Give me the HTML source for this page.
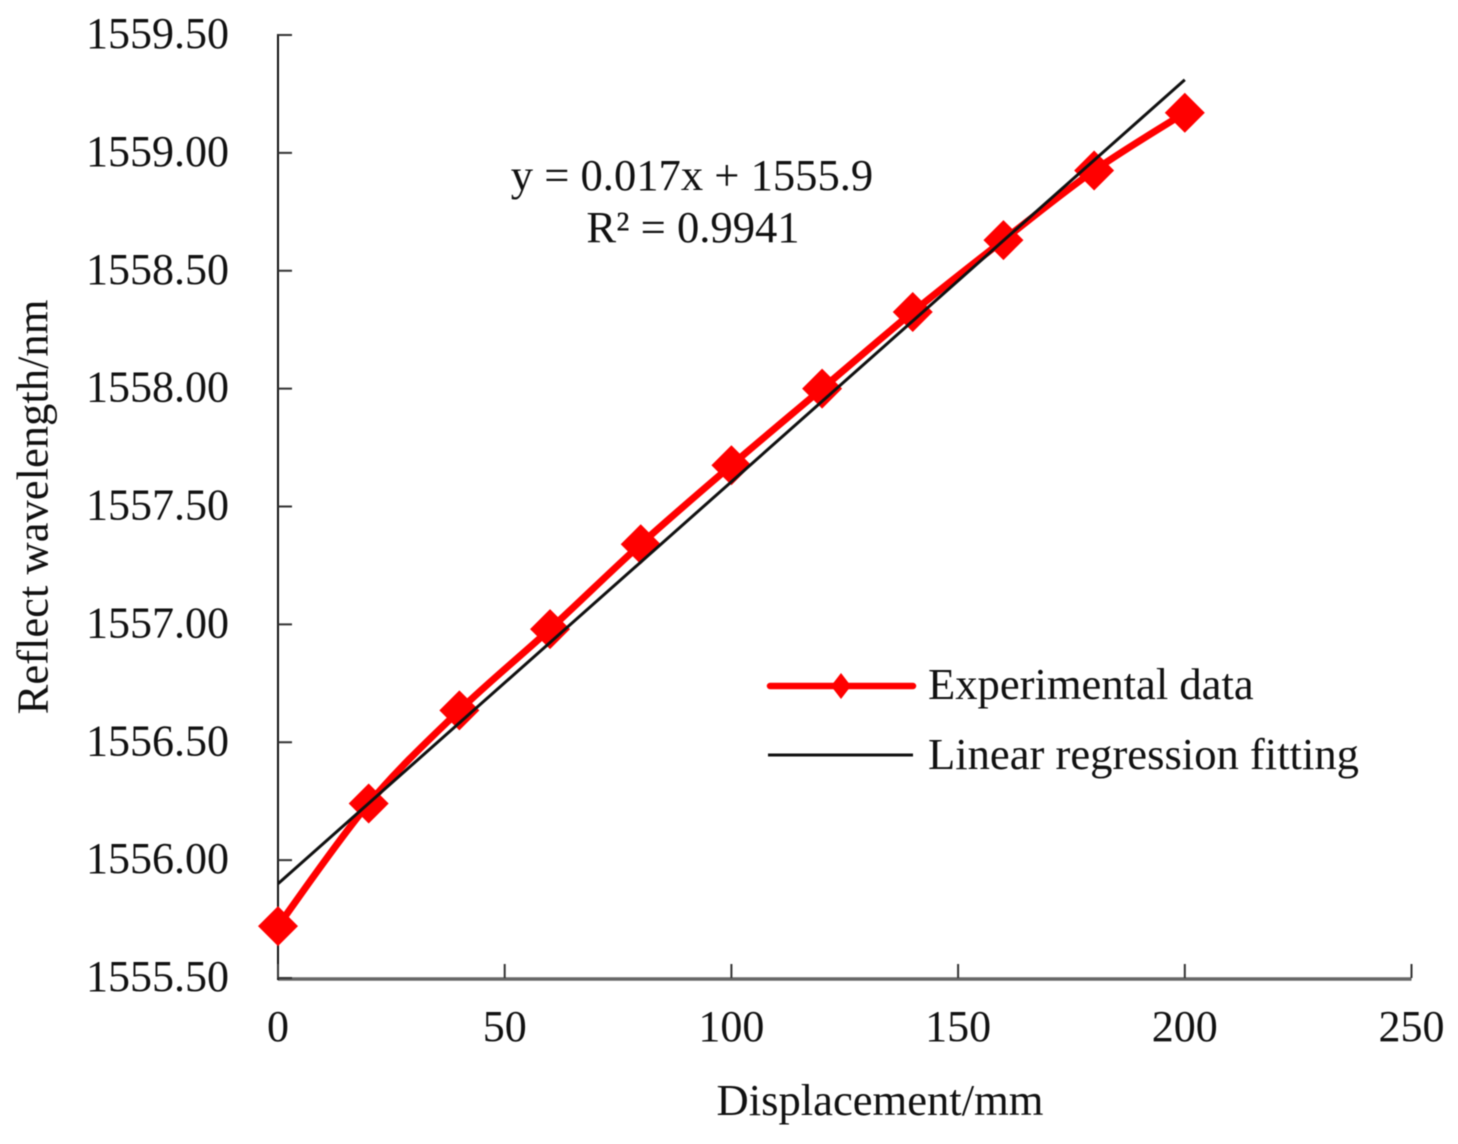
<!DOCTYPE html>
<html lang="en">
<head>
<meta charset="utf-8">
<title>Reflect wavelength vs displacement</title>
<style>
html,body{margin:0;padding:0;background:#fff;width:1458px;height:1144px;overflow:hidden}
svg{display:block;filter:blur(0.6px)}
text{font-family:"Liberation Serif","DejaVu Serif",serif;fill:#111}
</style>
</head>
<body>
<svg id="chart" xmlns="http://www.w3.org/2000/svg" width="1458" height="1144" viewBox="0 0 1458 1144">
  <g id="axes"></g>
  <g id="series"></g>
  <text x="692" y="190" font-size="44.6" text-anchor="middle">y = 0.017x + 1555.9</text>
  <text x="693" y="242" font-size="44.6" text-anchor="middle">R² = 0.9941</text>
  <text x="880" y="1115" font-size="44.6" text-anchor="middle">Displacement/mm</text>
  <text x="0" y="0" font-size="44.6" text-anchor="middle" transform="translate(47.5,507) rotate(-90)">Reflect wavelength/nm</text>
  <g>
    <line x1="770" y1="686" x2="913" y2="686" stroke="#ff0000" stroke-width="6.5" stroke-linecap="round"/>
    <polygon points="841,673 851,686 841,699 831,686" fill="#ff0000"/>
    <text x="928" y="699" font-size="44.6">Experimental data</text>
    <line x1="768" y1="755" x2="913" y2="755" stroke="#111" stroke-width="3"/>
    <text x="928" y="769" font-size="44.6">Linear regression fitting</text>
  </g>
</svg>
<script>
const displacement = [0, 20, 40, 60, 80, 100, 120, 140, 160, 180, 200];
const wavelength = [1555.72, 1556.24, 1556.635, 1556.98, 1557.34, 1557.675, 1558.0, 1558.325, 1558.63, 1558.925, 1559.17];
const fitDisplacement = [0, 200];
const fitWavelength = [1555.9, 1559.31];
const xTicks = [0, 50, 100, 150, 200, 250];
const yTicks = [1555.5, 1556, 1556.5, 1557, 1557.5, 1558, 1558.5, 1559, 1559.5];

const NS = 'http://www.w3.org/2000/svg';
const xScale = v => 278 + (v - 0) * (1411.5 - 278) / 250;
const yScale = v => 978 - (v - 1555.5) * (978 - 35) / 4;
const axes = document.getElementById('axes');
const series = document.getElementById('series');

function make(parent, tag, attrs) {
  const el = document.createElementNS(NS, tag);
  for (const k in attrs) el.setAttribute(k, attrs[k]);
  parent.appendChild(el);
  return el;
}

const xAxis = make(axes, 'line', {x1: xScale(0), y1: yScale(1555.5) + 1, x2: xScale(250), y2: yScale(1555.5) + 1, stroke: '#666', 'stroke-width': 3.5});


const yAxis = make(axes, 'line', {x1: xScale(0), y1: yScale(1559.5) - 1, x2: xScale(0), y2: yScale(1555.5) + 2, stroke: '#111', 'stroke-width': 2});



xTicks.forEach(t => {
  const tick = make(axes, 'line', {x1: xScale(t), y1: yScale(1555.5), x2: xScale(t), y2: yScale(1555.5) - 14, stroke: '#333', 'stroke-width': 2});
  
  
  const label = make(axes, 'text', {x: xScale(t), y: 1041, 'font-size': 44, 'text-anchor': 'middle'});
  
  
  label.textContent = String(t);
});

yTicks.forEach(t => {
  const tick = make(axes, 'line', {x1: xScale(0), y1: yScale(t), x2: xScale(0) + 14, y2: yScale(t), stroke: '#333', 'stroke-width': 2});
  
  
  const label = make(axes, 'text', {x: 229, y: yScale(t) + 13, 'font-size': 44, 'text-anchor': 'end'});
  
  
  label.textContent = t.toFixed(2);
});

/* Smoothed curve through the data points */
const pts = displacement.map((d, i) => [xScale(d), yScale(wavelength[i])]);
let d = 'M' + pts[0][0] + ' ' + pts[0][1];
for (let i = 0; i < pts.length - 1; i++) {
  const p0 = pts[Math.max(i - 1, 0)], p1 = pts[i], p2 = pts[i + 1], p3 = pts[Math.min(i + 2, pts.length - 1)];
  const c1 = [p1[0] + (p2[0] - p0[0]) / 6, p1[1] + (p2[1] - p0[1]) / 6];
  const c2 = [p2[0] - (p3[0] - p1[0]) / 6, p2[1] - (p3[1] - p1[1]) / 6];
  d += ' C' + c1[0] + ' ' + c1[1] + ' ' + c2[0] + ' ' + c2[1] + ' ' + p2[0] + ' ' + p2[1];
}
const curve = make(series, 'path', {d: d, fill: 'none', stroke: '#ff0000', 'stroke-width': 7, 'stroke-linejoin': 'round'});



pts.forEach(p => {
  const r = 20;
  const marker = make(series, 'polygon', {points: [p[0], p[1] - r, p[0] + r, p[1], p[0], p[1] + r, p[0] - r, p[1]].join(' '), fill: '#ff0000'});
  
  
});

const fit = make(series, 'line', {x1: xScale(fitDisplacement[0]), y1: yScale(fitWavelength[0]), x2: xScale(fitDisplacement[1]), y2: yScale(fitWavelength[1]), stroke: '#111', 'stroke-width': 3});


</script>
</body>
</html>
